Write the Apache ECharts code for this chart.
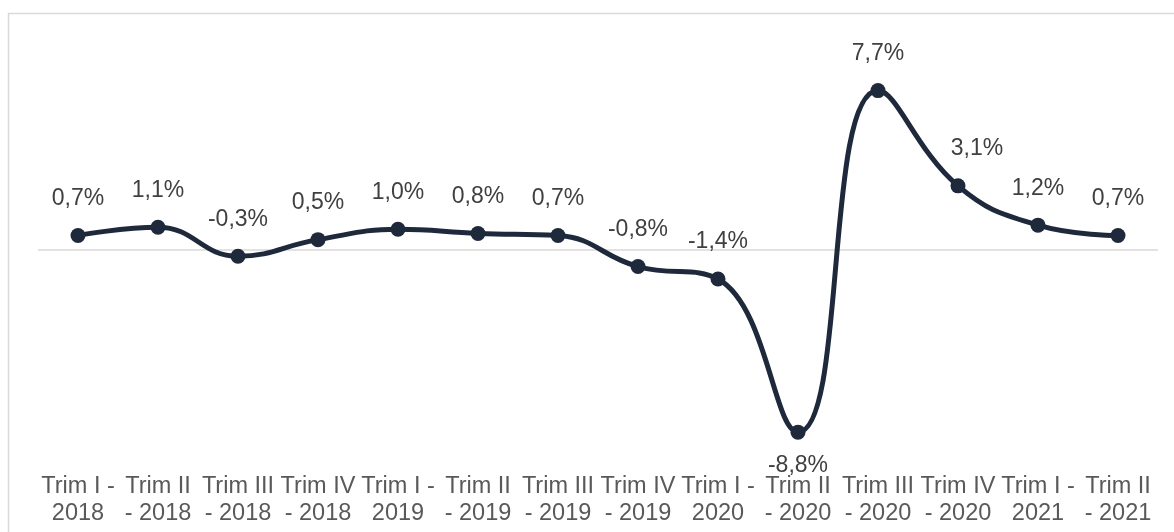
<!DOCTYPE html>
<html lang="es">
<head>
    <meta charset="UTF-8">
    <title>Variación trimestral</title>
    <script src="https://cdn.jsdelivr.net/npm/echarts@6/dist/echarts.min.js"></script>
    <style>
        *{ margin: 0; padding: 0; }
        body{ background: #fff; overflow: hidden; }
        #main{ width: 1174px; height: 532px; }
    </style>
</head>
<body>
<div id="main"></div>
<script>
    // categorías (texto tal como aparece en el eje, con salto de línea)
    var categories = [
        'Trim I -\n2018', 'Trim II\n- 2018', 'Trim III\n- 2018', 'Trim IV\n- 2018',
        'Trim I -\n2019', 'Trim II\n- 2019', 'Trim III\n- 2019', 'Trim IV\n- 2019',
        'Trim I -\n2020', 'Trim II\n- 2020', 'Trim III\n- 2020', 'Trim IV\n- 2020',
        'Trim I -\n2021', 'Trim II\n- 2021'
    ];
    // variación (%)
    var values = [0.7, 1.1, -0.3, 0.5, 1.0, 0.8, 0.7, -0.8, -1.4, -8.8, 7.7, 3.1, 1.2, 0.7];

    var lineColor = '#1e293b';

    var seriesData = [];
    for (var i = 0; i < values.length; i++) {
        var item = { value: values[i] };
        if (values[i] === -8.8) {
            item.label = { position: 'bottom', distance: 14 };
        }
        if (i === 11) {
            item.label = { offset: [19, 0] };
        }
        seriesData.push(item);
    }

    var myChart = echarts.init(document.getElementById('main'));

    var option = {
        animation: false,
        graphic: [{
            type: 'rect',
            shape: { x: 8.5, y: 13.5, width: 1200, height: 600 },
            style: { fill: 'none', stroke: '#d9d9d9', lineWidth: 1.5 },
            silent: true
        }],
        grid: {
            left: 38,
            right: 16,
            top: 43,
            bottom: 75
        },
        xAxis: {
            type: 'category',
            data: categories,
            boundaryGap: true,
            axisLine: { show: false, onZero: false },
            axisTick: { show: false },
            axisLabel: {
                interval: 0,
                margin: 16,
                color: '#595959',
                fontSize: 23.5,
                lineHeight: 27,
                fontFamily: 'Liberation Sans, Arial, sans-serif'
            }
        },
        yAxis: {
            type: 'value',
            min: -10,
            max: 10,
            show: false,
            splitLine: { show: false }
        },
        series: [{
            type: 'line',
            data: seriesData,
            smooth: 0.45,
            symbol: 'circle',
            symbolSize: 15,
            lineStyle: { color: lineColor, width: 5 },
            itemStyle: { color: lineColor },
            label: {
                show: true,
                position: 'top',
                distance: 18,
                color: '#404040',
                fontSize: 23,
                fontFamily: 'Liberation Sans, Arial, sans-serif',
                formatter: function (p) {
                    return p.value.toFixed(1).replace('.', ',') + '%';
                }
            },
            markLine: {
                silent: true,
                symbol: 'none',
                label: { show: false },
                lineStyle: { color: '#d9d9d9', width: 1.5, type: 'solid' },
                data: [{ yAxis: 0 }],
                z: 1
            },
            z: 3
        }]
    };

    myChart.setOption(option);
</script>
</body>
</html>
